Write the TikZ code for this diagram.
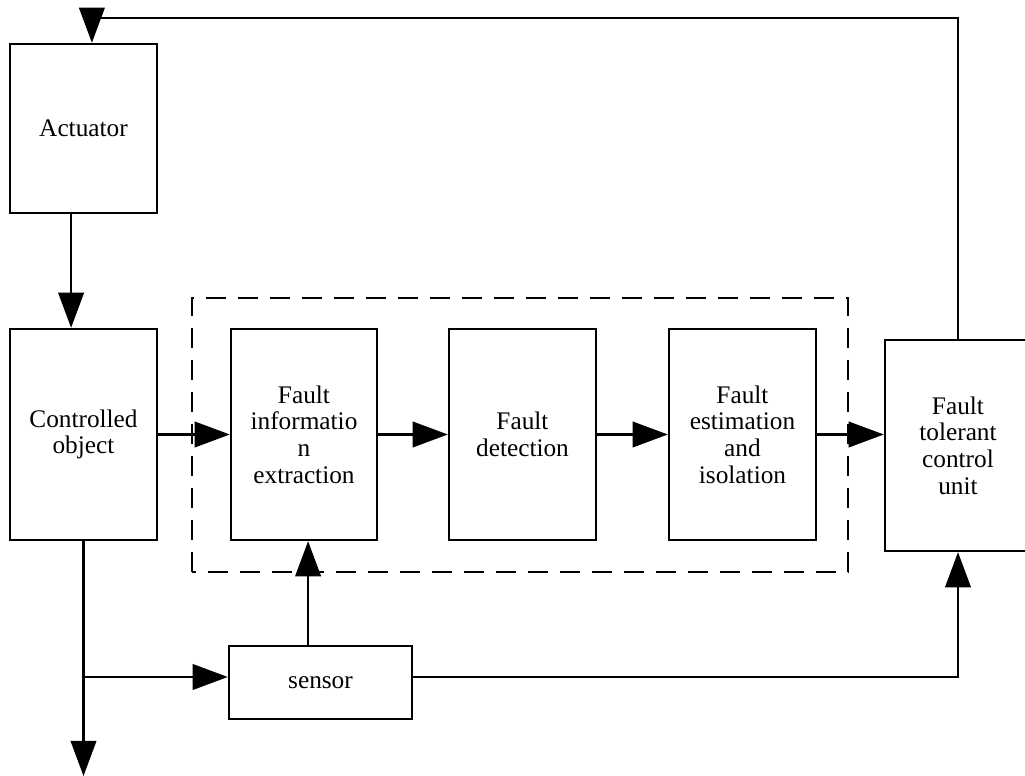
\documentclass[tikz,border=0pt]{standalone}
\usepackage{fontspec}
\setmainfont{Liberation Serif}
\usetikzlibrary{arrows.meta}
\tikzset{
  blk/.style={draw, line width=1.7pt, align=center, inner sep=0pt,
    font=\rmfamily\fontsize{18}{19}\selectfont},
  conn/.style={line width=1.5pt, -{Triangle[length=0.88cm,width=0.64cm]}},
  wire/.style={line width=1.5pt}
}
\begin{document}
\begin{tikzpicture}
\useasboundingbox (0,0) rectangle (25.625,19.4);

% dashed diagnosis frame
\draw[line width=1.7pt, dash pattern=on 0.5cm off 0.3cm] (4.8,5.1) rectangle (21.2,11.95);

% blocks
\node[blk, minimum width=3.675cm, minimum height=4.225cm] (act) at (2.0875,16.1875) {Actuator};
\node[blk, minimum width=3.675cm, minimum height=5.275cm] (obj) at (2.0875,8.5375) {Controlled\\object};
\node[blk, minimum width=3.65cm, minimum height=5.275cm] (fie) at (7.6,8.5375) {Fault\\informatio\\n\\extraction};
\node[blk, minimum width=3.675cm, minimum height=5.275cm] (det) at (13.0625,8.5375) {Fault\\detection};
\node[blk, minimum width=3.675cm, minimum height=5.275cm] (fei) at (18.5625,8.5375) {Fault\\estimation\\and\\isolation};
\node[blk, minimum width=3.65cm, minimum height=5.275cm] (ftc) at (23.95,8.2625) {Fault\\tolerant\\control\\unit};
\node[blk, minimum width=4.575cm, minimum height=1.825cm] (sen) at (8.0125,2.3375) {sensor};

% helper points
\coordinate (top) at (23.95,18.95);
\coordinate (br) at (2.0875,2.475);
\coordinate (out) at (2.0875,0);
\coordinate (up) at ([xshift=-0.31cm]sen.north);

% forward chain
\draw[conn] ([xshift=-0.31cm]act.south) -- ([xshift=-0.31cm]obj.north);
\draw[conn] (obj.east) -- (fie.west);
\draw[conn] (fie.east) -- (det.west);
\draw[conn] (det.east) -- (fei.west);
\draw[conn] (fei.east) -- (fei.east -| ftc.west);

% feedback to actuator
\draw[conn] (ftc.north) -- (top) -- ([xshift=0.21cm]top -| act.north) -- ([xshift=0.21cm]act.north);

% output and sensor
\draw[conn] (obj.south) -- (out);
\draw[conn] (br) -- (br -| sen.west);
\draw[conn] (up) -- (up |- fie.south);
\draw[conn] (br -| sen.east) -- (br -| ftc.south) -- (ftc.south);
\end{tikzpicture}
\end{document}
